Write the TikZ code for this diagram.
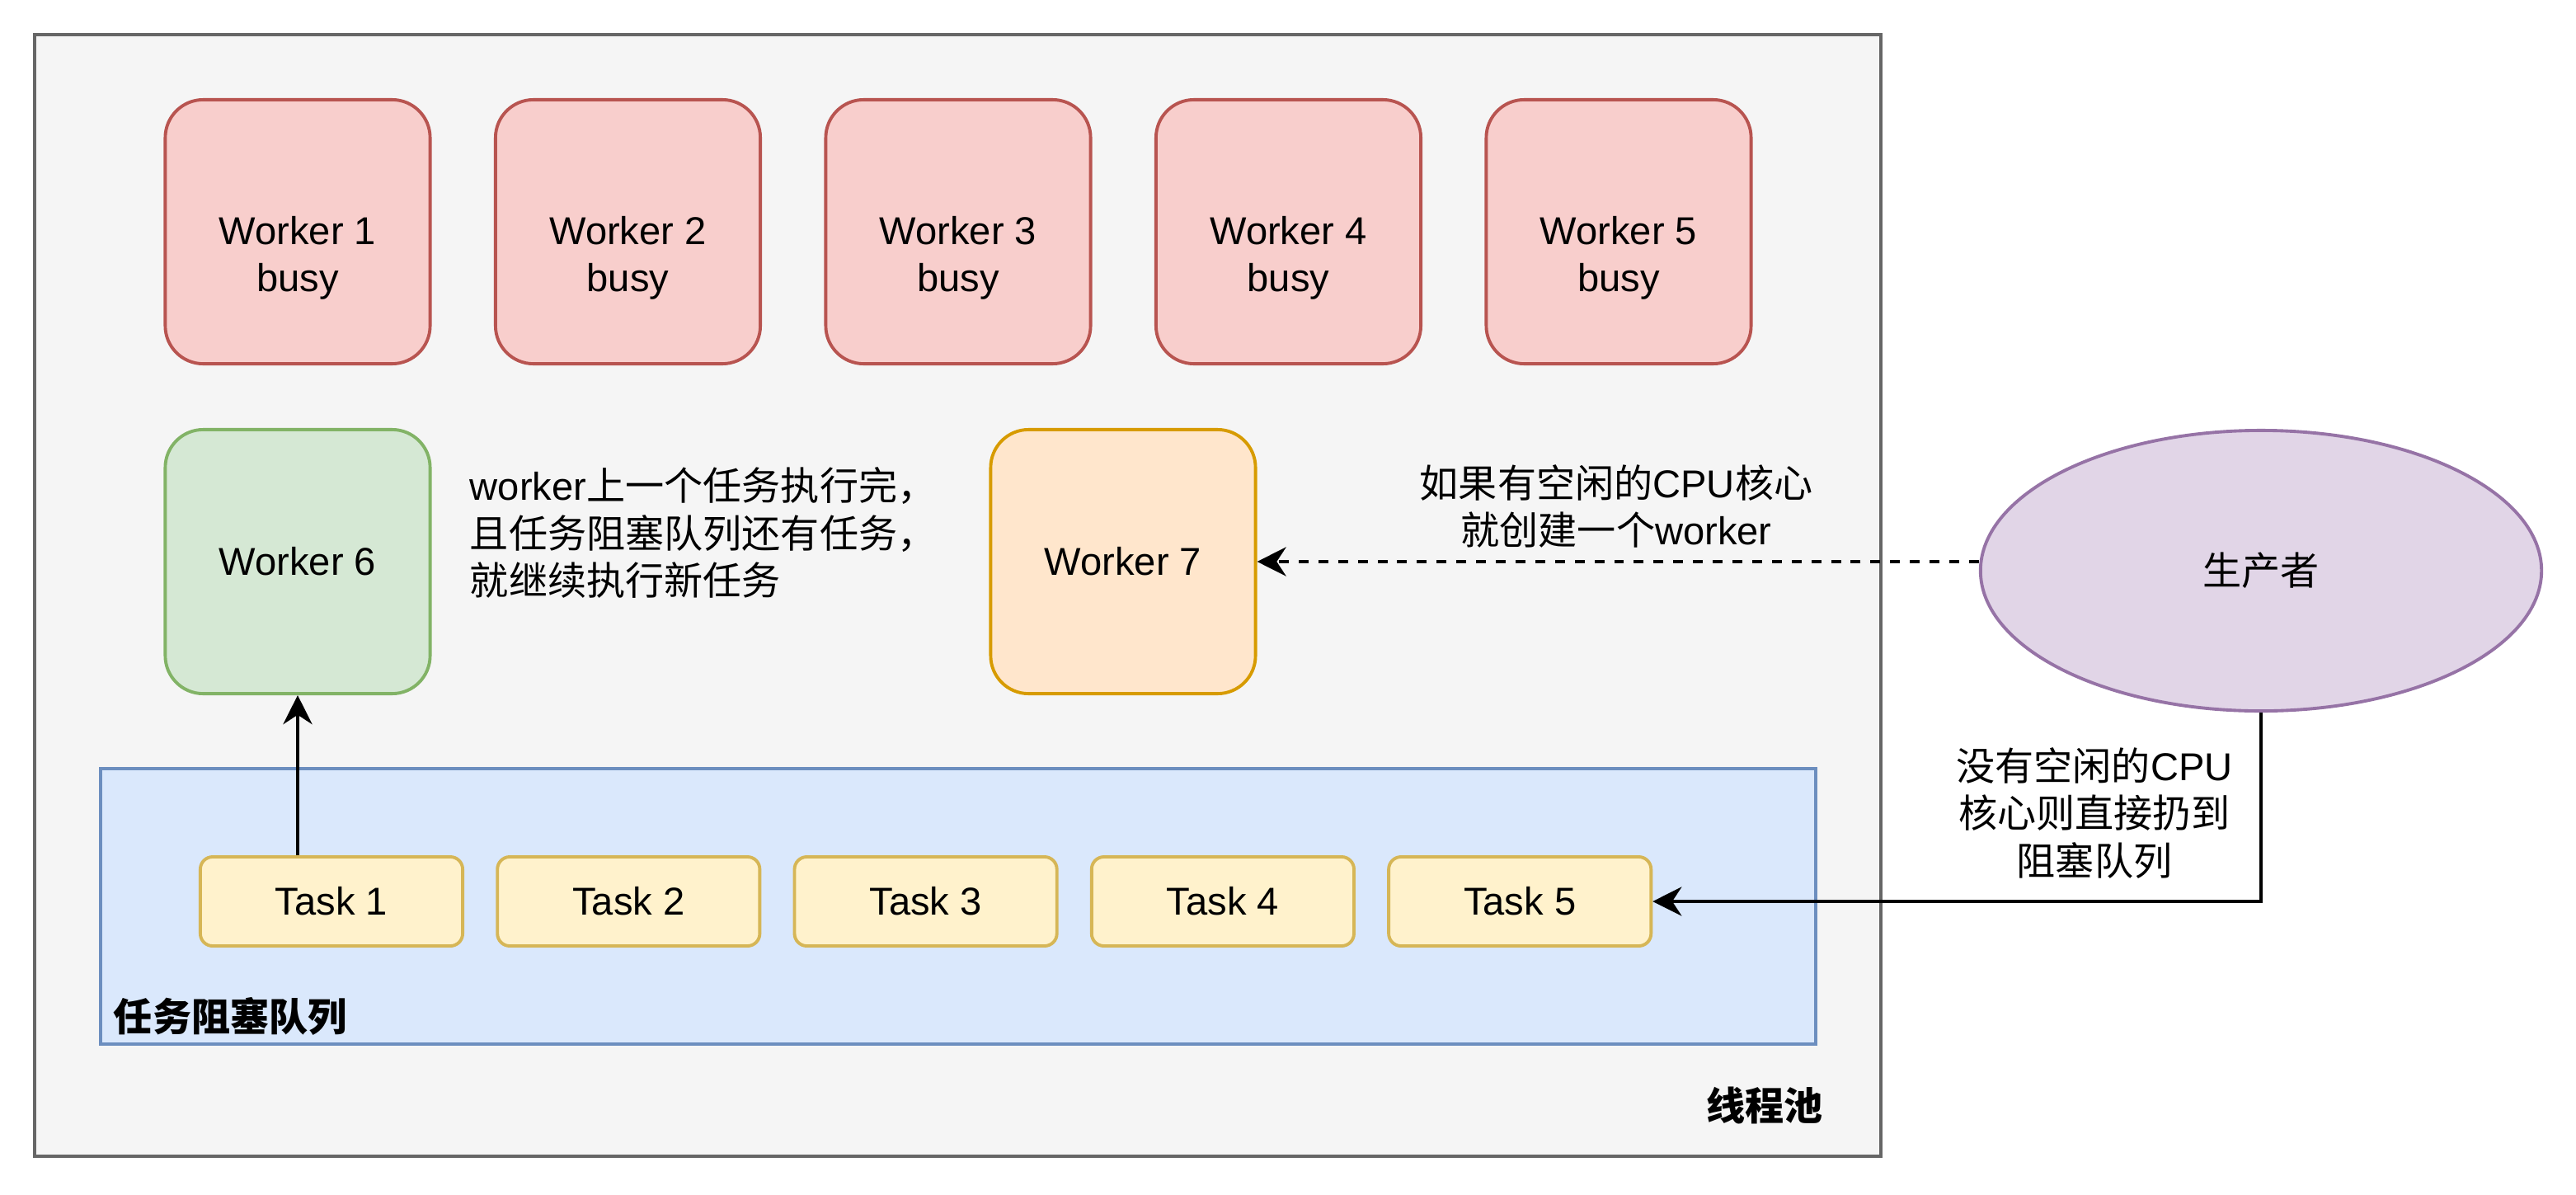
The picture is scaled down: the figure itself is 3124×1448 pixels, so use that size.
\documentclass[tikz,border=0pt]{standalone}
\usepackage{fontspec}
\setmainfont{Liberation Sans}
\newfontfamily\cjk{Noto Sans CJK SC}
\usetikzlibrary{arrows.meta,positioning,shapes.geometric}
\definecolor{poolfill}{HTML}{F5F5F5}\definecolor{poolline}{HTML}{666666}
\definecolor{busyfill}{HTML}{F8CECC}\definecolor{busyline}{HTML}{B85450}
\definecolor{runfill}{HTML}{D5E8D4}\definecolor{runline}{HTML}{82B366}
\definecolor{newfill}{HTML}{FFE6CC}\definecolor{newline}{HTML}{D79B00}
\definecolor{prodfill}{HTML}{E1D5E7}\definecolor{prodline}{HTML}{9673A6}
\definecolor{queuefill}{HTML}{DAE8FC}\definecolor{queueline}{HTML}{6C8EBF}
\definecolor{taskfill}{HTML}{FFF2CC}\definecolor{taskline}{HTML}{D6B656}

\begin{document}
\begin{tikzpicture}[x=0.01cm,y=-0.01cm,>={Stealth[length=10pt,width=10pt]},line width=1.1pt,
  font=\fontsize{13.4}{16.4}\selectfont,
  worker/.style={draw,rounded corners=0.46cm,minimum width=3.21cm,minimum height=3.2cm,align=center},
  busy/.style={worker,draw=busyline,fill=busyfill},
  task/.style={draw=taskline,fill=taskfill,rounded corners=0.15cm,minimum width=3.18cm,minimum height=1.08cm},
  note/.style={align=center,inner sep=0pt}]
\useasboundingbox (0,0) rectangle (3124,1448);
\draw[poolline,fill=poolfill] (42,42) rectangle (2281,1402);
\draw[queueline,fill=queuefill] (122,932) rectangle (2202,1266);
\foreach \i in {1,...,5} \node[busy] (w\i) at ({361+400.5*(\i-1)},281) {\strut\\Worker \i\\busy};
\node[worker,draw=runline,fill=runfill] (w6) at (361,681) {Worker 6};
\node[worker,draw=newline,fill=newfill] (w7) at (1362,681) {Worker 7};
\foreach \i in {1,...,5} \node[task] (t\i) at ({402+360.3*(\i-1)},1093) {Task \i};
\node[ellipse,draw=prodline,fill=prodfill,minimum width=6.8cm,minimum height=3.4cm,inner sep=0pt] (producer) at (2742,692) {\cjk 生产者};
\node[note,align=left,anchor=west] (runtext) at (568,646) {worker{\cjk 上一个任务执行完，}\\{\cjk 且任务阻塞队列还有任务，}\\{\cjk 就继续执行新任务}};
\node[note] (newtext) at (1960,614) {{\cjk 如果有空闲的}CPU{\cjk 核心}\\{\cjk 就创建一个}worker};
\node[note] (queuetext) at (2540,986) {{\cjk 没有空闲的}CPU\\{\cjk 核心则直接扔到}\\{\cjk 阻塞队列}};
\node[inner sep=0pt,anchor=west] (queuename) at (136,1232) {\cjk\bfseries 任务阻塞队列};
\node[inner sep=0pt,anchor=east] (poolname) at (2213,1340) {\cjk\bfseries 线程池};
\draw[->] (t1.north -| w6.south) -- (w6.south);
\draw[->,dash pattern=on 3.4pt off 3.4pt] (w7.east -| producer.west) -- (w7.east);
\draw[->] (producer.south) |- (t5.east);
\end{tikzpicture}
\end{document}
